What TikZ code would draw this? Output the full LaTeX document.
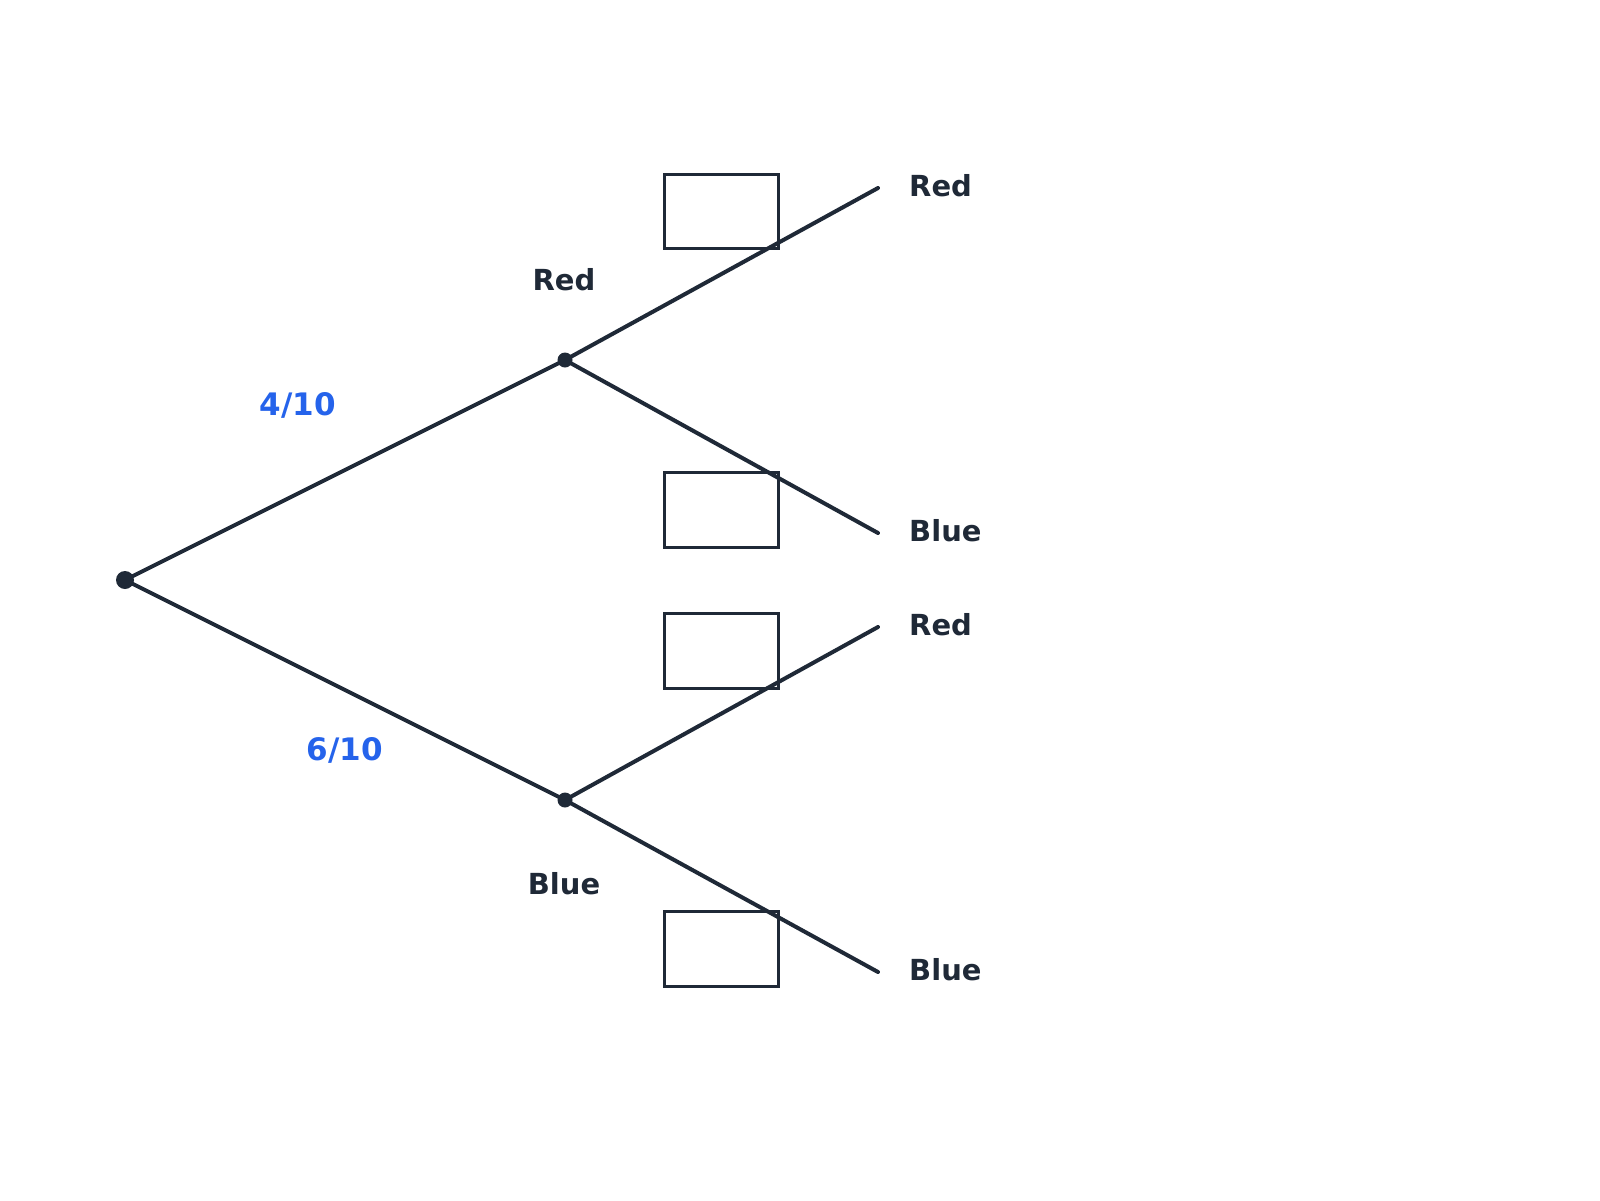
\documentclass[tikz,border=0pt]{standalone}
\usepackage{fontspec}
\setmainfont{DejaVu Sans}
\begin{document}
\begin{tikzpicture}[x=1pt,y=-1pt,
  ln/.style={line width=4pt,draw=dk,line cap=round},
  bx/.style={line width=3pt,draw=dk},
  lab/.style={text=dk,font=\fontsize{29}{34}\selectfont\bfseries,inner sep=0pt},
  prob/.style={text=bl,font=\fontsize{31}{36}\selectfont\bfseries,inner sep=0pt},
  dot/.style={circle,fill=dk,inner sep=0pt}]
\definecolor{dk}{HTML}{1F2937}
\definecolor{bl}{HTML}{2563EB}
\useasboundingbox (0,0) rectangle (1600,1200);
\node[dot,minimum size=18pt] (root) at (125,580) {};
\node[dot,minimum size=15pt] (r) at (565,360) {};
\node[dot,minimum size=15pt] (b) at (565,800) {};
\coordinate (rr) at (878,188);
\coordinate (rb) at (878,533);
\coordinate (br) at (878,627);
\coordinate (bb) at (878,972);
\draw[ln] (root.center) -- (r.center);
\draw[ln] (root.center) -- (b.center);
\draw[ln] (r.center) -- (rr);
\draw[ln] (r.center) -- (rb);
\draw[ln] (b.center) -- (br);
\draw[ln] (b.center) -- (bb);
\draw[bx] (664,174) rectangle (778,248);
\draw[bx] (664,472) rectangle (778,547);
\draw[bx] (664,613) rectangle (778,688);
\draw[bx] (664,911) rectangle (778,986);
\node[lab,anchor=west] (l1) at (909,186) {Red};
\node[lab,anchor=west] (l2) at (909,531) {Blue};
\node[lab,anchor=west] (l3) at (909,625) {Red};
\node[lab,anchor=west] (l4) at (909,970) {Blue};
\node[lab] (lr) at (564,280) {Red};
\node[lab] (lb) at (564,884) {Blue};
\node[prob] (p1) at (298,405) {4/10};
\node[prob] (p2) at (345,750) {6/10};
\end{tikzpicture}
\end{document}
